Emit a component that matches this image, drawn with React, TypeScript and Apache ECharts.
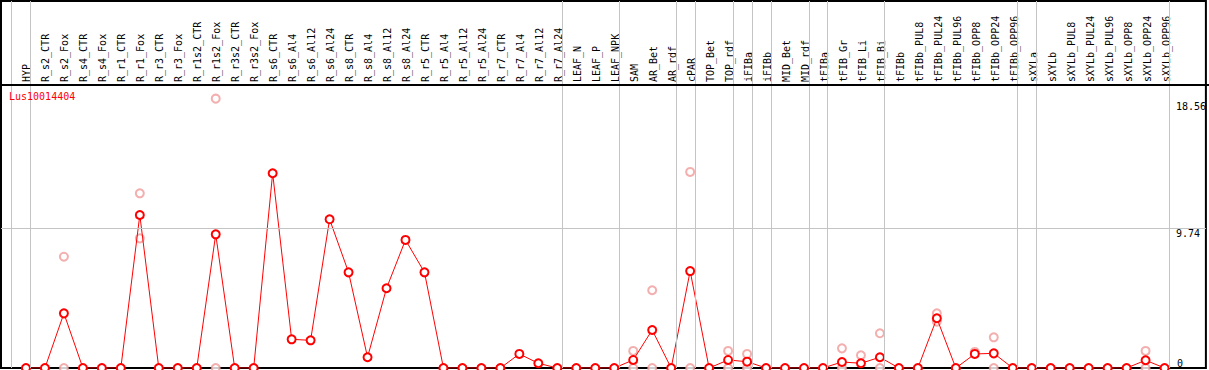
import React, { useEffect, useRef } from "react";
import * as echarts from "echarts";

const categories = [
  "HYP", "R_s2_CTR", "R_s2_Fox", "R_s4_CTR", "R_s4_Fox", "R_r1_CTR", "R_r1_Fox", "R_r3_CTR", "R_r3_Fox",
  "R_r1s2_CTR", "R_r1s2_Fox", "R_r3s2_CTR", "R_r3s2_Fox", "R_s6_CTR", "R_s6_Al4", "R_s6_Al12", "R_s6_Al24",
  "R_s8_CTR", "R_s8_Al4", "R_s8_Al12", "R_s8_Al24", "R_r5_CTR", "R_r5_Al4", "R_r5_Al12", "R_r5_Al24",
  "R_r7_CTR", "R_r7_Al4", "R_r7_Al12", "R_r7_Al24", "LEAF_N", "LEAF_P", "LEAF_NPK", "SAM", "AR_Bet", "AR_rdf",
  "cPAR", "TOP_Bet", "TOP_rdf", "iFIBa", "iFIBb", "MID_Bet", "MID_rdf", "tFIBa", "tFIB_Gr", "tFIB_Li", "tFIB_Bi",
  "tFIBb", "tFIBb_PUL8", "tFIBb_PUL24", "tFIBb_PUL96", "tFIBb_OPP8", "tFIBb_OPP24", "tFIBb_OPP96",
  "sXYLa", "sXYLb", "sXYLb_PUL8", "sXYLb_PUL24", "sXYLb_PUL96", "sXYLb_OPP8", "sXYLb_OPP24", "sXYLb_OPP96",
];

// sizes of the sample groups separated by grey vertical lines
const groupSizes = [1, 28, 3, 3, 1, 2, 1, 1, 2, 1, 3, 7, 1, 7];

const means = [
  0, 0, 3.81, 0, 0, 0, 10.67, 0, 0, 0, 9.32, 0, 0, 13.58, 2.0, 1.93, 10.37, 6.67, 0.75, 5.56, 8.93, 6.67,
  0, 0, 0, 0, 0.98, 0.33, 0, 0, 0, 0, 0.56, 2.65, 0, 6.76, 0, 0.56, 0.44, 0, 0, 0, 0, 0.42, 0.33, 0.75,
  0, 0, 3.47, 0, 0.98, 1.02, 0, 0, 0, 0, 0, 0, 0, 0.54, 0,
];

const replicates: Record<string, number[]> = {
  R_s2_Fox: [7.76, 0],
  R_r1_Fox: [12.18, 9.04],
  R_r1s2_Fox: [18.78, 0],
  SAM: [1.19, 0],
  AR_Bet: [5.42, 0],
  cPAR: [13.67, 0],
  TOP_rdf: [1.19, 0],
  iFIBa: [0.98, 0],
  tFIB_Gr: [1.37, 0],
  tFIB_Li: [0.89],
  tFIB_Bi: [2.42, 0],
  tFIBb_PUL24: [3.81, 3.23],
  tFIBb_OPP8: [1.12],
  tFIBb_OPP24: [2.14, 0],
  sXYLb_OPP24: [1.19, 0],
};

const yTicks = [0, 9.74, 18.56];
const geneName = "Lus10014404";

const MONO = "DejaVu Sans Mono";

export default function App() {
  const ref = useRef<HTMLDivElement>(null);
  useEffect(() => {
    if (!ref.current) return;
    const chart = echarts.init(ref.current, undefined, { renderer: "svg" });

    const meanData = means.map((v, i) => [i, v]);
    const repData: number[][] = [];
    categories.forEach((c, i) => {
      (replicates[c] || []).forEach((v) => repData.push([i, v]));
    });

    const sepLines: any[] = [{ xAxis: -1 + 0.25 }];
    let end = -1;
    groupSizes.forEach((s) => {
      end += s;
      sepLines.push({ xAxis: end + 0.25 });
    });

    const option: any = {
      animation: false,
      title: {
        text: geneName,
        left: 9,
        top: 91,
        padding: 0,
        textStyle: { color: "#ff0000", fontSize: 10, fontWeight: "normal", fontFamily: MONO },
      },
      grid: [
        { left: 1, right: 1, top: 1, bottom: 2, show: true, borderColor: "#000", borderWidth: 2 },
        { left: 16.5, right: 32.9, top: 85, bottom: 2 },
      ],
      xAxis: [
        { type: "value", gridIndex: 0, min: -1.3151, max: 62.178, show: false },
        {
          type: "category",
          gridIndex: 1,
          position: "top",
          data: categories,
          boundaryGap: true,
          axisLine: { show: false },
          axisTick: { show: false },
          splitLine: { show: false },
          axisLabel: { interval: 0, rotate: 90, margin: 3, fontSize: 10, fontFamily: MONO, color: "#000" },
        },
      ],
      yAxis: [
        {
          type: "value",
          gridIndex: 0,
          min: 0,
          max: 25.59,
          position: "right",
          axisLine: { show: false },
          axisTick: { show: false },
          splitLine: { show: false },
          axisLabel: {
            inside: true,
            customValues: yTicks.slice(1),
            align: "left",
            verticalAlign: "top",
            margin: 30,
            fontSize: 10,
            fontFamily: MONO,
            color: "#000",
            formatter: (v: number) => String(v),
          },
        },
        {
          type: "value",
          gridIndex: 0,
          min: 0,
          max: 25.59,
          position: "right",
          axisLine: { show: false },
          axisTick: { show: false },
          splitLine: { show: false },
          axisLabel: {
            inside: true,
            customValues: yTicks.slice(0, 1),
            align: "left",
            verticalAlign: "bottom",
            margin: 29,
            fontSize: 10,
            fontFamily: MONO,
            color: "#000",
            formatter: (v: number) => String(v),
          },
        },
        { type: "value", gridIndex: 1, show: false },
      ],
      graphic: [
        {
          type: "line",
          shape: { x1: 0, y1: 85, x2: 1209, y2: 85 },
          style: { stroke: "#000", lineWidth: 2 },
          z: 10,
        },
      ],
      series: [
        {
          type: "scatter",
          xAxisIndex: 0,
          yAxisIndex: 0,
          data: repData,
          symbol: "emptyCircle",
          symbolSize: 8,
          itemStyle: { color: "#f09a9a", borderColor: "#f09a9a", borderWidth: 1.5 },
          z: 2,
          markLine: {
            silent: true,
            symbol: "none",
            label: { show: false },
            lineStyle: { color: "#c4c4c4", width: 1, type: "solid" },
            data: [...sepLines, { yAxis: yTicks[1] }],
          },
        },
        {
          type: "line",
          xAxisIndex: 0,
          yAxisIndex: 0,
          data: meanData,
          symbol: "emptyCircle",
          symbolSize: 8,
          showAllSymbol: true,
          lineStyle: { color: "#ff0000", width: 1 },
          itemStyle: { color: "#ff0000", borderColor: "#ff0000", borderWidth: 1.5 },
          z: 3,
        },
      ],
    };
    chart.setOption(option);
    return () => chart.dispose();
  }, []);
  return (
    <div
      ref={ref}
      style={{ position: "fixed", left: 0, top: 0, width: 1209, height: 370, background: "#fff" }}
    />
  );
}
